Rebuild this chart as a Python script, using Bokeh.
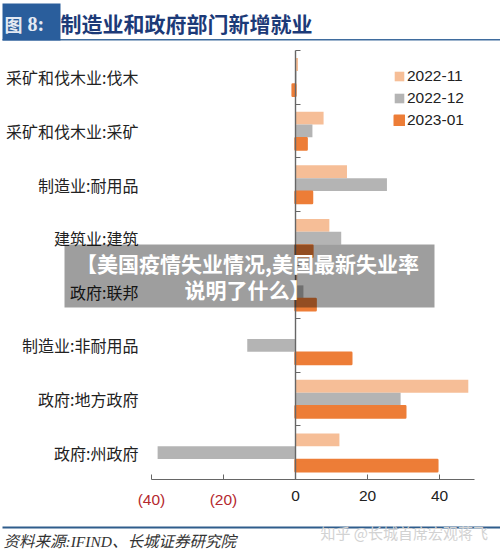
from bokeh.embed import file_html
from bokeh.resources import INLINE
from bokeh.plotting import figure
from bokeh.models import (ColumnDataSource, LinearAxis, FixedTicker, Label, BoxAnnotation,
                          Legend, LegendItem, Range1d)

categories = ["采矿和伐木业:伐木", "采矿和伐木业:采矿", "制造业:耐用品", "建筑业:建筑",
              "政府:联邦", "制造业:非耐用品", "政府:地方政府", "政府:州政府"]
series_names = ["2022-11", "2022-12", "2023-01"]
values_2022_11 = [0.7, 7.8, 14.3, 9.4, 0.5, 0.0, 48.0, 12.2]
values_2022_12 = [0.3, 4.7, 25.4, 12.7, 2.2, -13.4, 29.2, -38.3]
values_2023_01 = [-0.8, 3.1, 4.6, 4.7, 5.6, 15.5, 30.5, 39.4]
x_ticks_pos = [0, 20, 40]
x_ticks_neg = [-40, -20]
colors = ["#F6BE97", "#B4B4B4", "#ED7D37"]

INK = "#222222"
AXIS = "#666666"
CJK = "Noto Sans CJK SC"
LATIN = "Liberation Sans"
SERIF_CJK = "'Liberation Serif', 'Noto Sans CJK SC'"

n = len(categories)
centres = [n - i for i in range(n)]
BAR = 0.24

# The frame fills the whole canvas; the ranges place the plotting area inside it.
W, H = 500, 552
PX_PER_X, ZERO_PX = 3.6, 295
PX_PER_CAT, TOP_PX, AXIS_PX = 53.625, 50, 479
X_MIN, X_MAX = -40, 49.7
Y_MIN, Y_MAX = 0.5, n + 0.5

p = figure(width=W, height=H, output_backend="svg", toolbar_location=None,
           x_range=Range1d(-ZERO_PX / PX_PER_X, (W - ZERO_PX) / PX_PER_X),
           y_range=Range1d(Y_MIN - (H - AXIS_PX) / PX_PER_CAT, Y_MAX + TOP_PX / PX_PER_CAT),
           min_border=0, x_axis_location=None, y_axis_location=None, outline_line_color=None)
p.grid.visible = False
p.background_fill_color = "white"
p.border_fill_color = "white"

# category labels down the left edge
left = LinearAxis(ticker=FixedTicker(ticks=centres),
                  major_label_overrides={c: t for c, t in zip(centres, categories)},
                  axis_line_color=None, major_tick_line_color=None, minor_tick_line_color=None,
                  major_tick_in=0, major_tick_out=0, major_label_standoff=13,
                  major_label_text_font=CJK, major_label_text_font_size="16px",
                  major_label_text_color=INK, fixed_location=X_MIN)
p.add_layout(left, "left")


# value axes: two of them, because the negative labels are red
def value_axis(ticks, labels, color, line):
    return LinearAxis(ticker=FixedTicker(ticks=ticks), bounds=(X_MIN, X_MAX),
                      major_label_overrides=labels,
                      axis_line_color=line, axis_line_width=1.2,
                      major_tick_line_color=AXIS, minor_tick_line_color=None,
                      major_tick_in=5, major_tick_out=0, major_label_standoff=11,
                      major_label_text_font=LATIN, major_label_text_font_size="15.5px",
                      major_label_text_color=color, major_label_text_align="center",
                      fixed_location=Y_MIN)


p.add_layout(value_axis(x_ticks_pos, {t: str(t) for t in x_ticks_pos}, INK, AXIS), "below")
p.add_layout(value_axis(x_ticks_neg, {t: f"({abs(t)})" for t in x_ticks_neg}, "#B5282E", None), "below")

items = []
for k, (name, vals, col) in enumerate(zip(series_names, [values_2022_11, values_2022_12, values_2023_01], colors)):
    src = ColumnDataSource(dict(y=[c + (1 - k) * BAR for c in centres], left=[0] * n, right=vals))
    outline = dict(line_color=col, line_width=2.4, line_join="round") if k == 2 else dict(line_color=None)
    r = p.hbar(y="y", left="left", right="right", height=BAR if k < 2 else BAR - 0.03,
               fill_color=col, source=src, **outline)
    items.append(LegendItem(label=name, renderers=[r]))

# central vertical axis with short ticks at the category boundaries
zero = LinearAxis(ticker=FixedTicker(ticks=[b + 0.5 for b in range(n + 1)]), bounds=(Y_MIN, Y_MAX),
                  axis_line_color=AXIS, axis_line_width=1.4,
                  major_tick_line_color=AXIS, minor_tick_line_color=None,
                  major_tick_in=5, major_tick_out=0,
                  major_label_text_color=None, major_label_text_font_size="1px",
                  fixed_location=0)
p.add_layout(zero, "left")

legend = Legend(items=items, location=(393, 423), border_line_color=None, background_fill_alpha=0,
                glyph_width=12, glyph_height=12, label_standoff=2, spacing=4, padding=0, margin=0,
                label_text_font=LATIN, label_text_font_size="15.5px", label_text_color=INK,
                label_height=17)
p.add_layout(legend, "center")


def box(l, t, r, b, color, alpha=1.0):
    p.add_layout(BoxAnnotation(left=l, right=r, top=t, bottom=b,
                               left_units="canvas", right_units="canvas",
                               top_units="canvas", bottom_units="canvas",
                               fill_color=color, fill_alpha=alpha, line_color=None))


def text(x, y, s, size, color, font=CJK, style="normal", align="left"):
    p.add_layout(Label(x=x, y=y, x_units="canvas", y_units="canvas", text=s,
                       text_font=font, text_font_size=size, text_font_style=style,
                       text_color=color, text_align=align, text_baseline="middle"))


# header
box(2, 38.5, 500, 40, "#3F6C9E")
box(2, 3, 60, 40, "#2A5E9C")
text(4, 23, "图", "18px", "#E4EAF3", style="bold")
text(27, 23, "8:", "20px", "#E4EAF3", font="Liberation Serif", style="bold")
text(60, 22, "制造业和政府部门新增就业", "21px", "#1C3A78", style="bold")

# footer
box(2, 526, 500, 528, "#2F5D8C")
text(3, 541, "资料来源:IFIND、长城证券研究院", "15.5px", "#333333", font=SERIF_CJK, style="italic")
text(320, 532, "知乎 @长城首席宏观蒋飞", "15px", "#D2D2D2")

# dark translucent caption banner over the chart
box(64, 244, 434, 307, "#000000", 0.38)
text(247, 262, "【美国疫情失业情况,美国最新失业率", "21px", "#FFFFFF", style="bold", align="center")
text(247, 288, "说明了什么】", "21px", "#FFFFFF", style="bold", align="center")

open("out.html", "w").write(file_html(p, INLINE))
